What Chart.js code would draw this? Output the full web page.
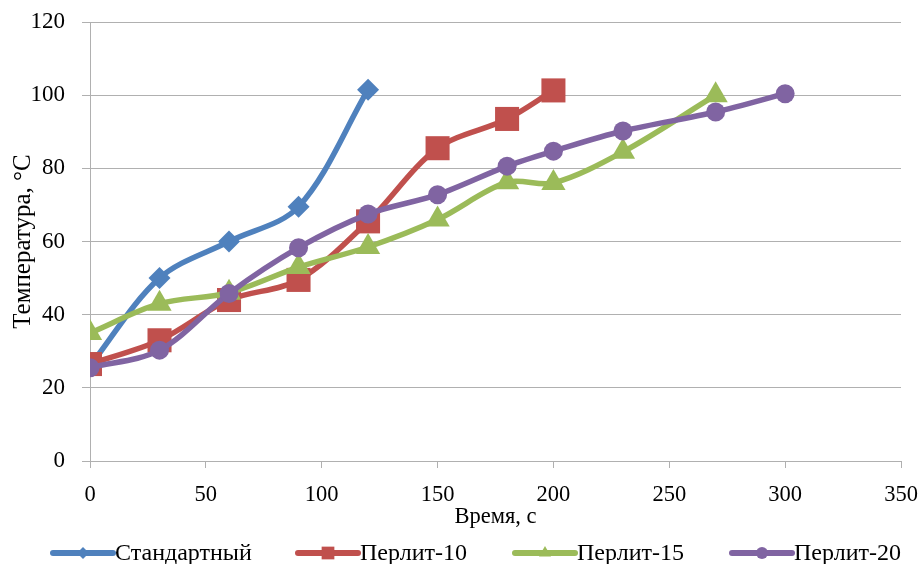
<!DOCTYPE html>
<html>
<head>
<meta charset="utf-8">
<script src="https://cdn.jsdelivr.net/npm/chart.js@4/dist/chart.umd.min.js"></script>
<style>
  html, body { margin: 0; padding: 0; background: #fff; }
  #wrap { width: 918px; height: 564px; }
</style>
</head>
<body>
<div id="wrap"><canvas id="c" width="918" height="564"></canvas></div>
<script>
// Heating curves: temperature (°C) over time (s)
const seriesNames = ['Стандартный', 'Перлит-10', 'Перлит-15', 'Перлит-20'];

const standardTime = [0, 30, 60, 90, 120];
const standardTemp = [26, 50, 60, 69.5, 101.5];

const perlit10Time = [0, 30, 60, 90, 120, 150, 180, 200];
const perlit10Temp = [26.5, 33, 44, 49.5, 65.5, 85.5, 93.5, 101.3];

const perlit15Time = [0, 30, 60, 90, 120, 150, 180, 200, 230, 270];
const perlit15Temp = [35, 43, 46, 53, 58.5, 66, 76.2, 76, 84.5, 100];

const perlit20Time = [0, 30, 60, 90, 120, 150, 180, 200, 230, 270, 300];
const perlit20Temp = [25.5, 30.3, 45.8, 58.3, 67.5, 72.8, 80.6, 84.7, 90.2, 95.4, 100.4];

const xTicks = [0, 50, 100, 150, 200, 250, 300, 350];
const yTicks = [0, 20, 40, 60, 80, 100, 120];

const xTitle = 'Время, с';
const yTitle = 'Температура, °С';

const colors = ['#4F81BD', '#C0504D', '#9BBB59', '#8064A2'];
const markers = ['rectRot', 'rect', 'triangle', 'circle'];
const markerRadius = [11, 17, 14, 9.5];
const legendMarkerRadius = [6, 9, 7, 6];

const serif = '"Liberation Serif", "Times New Roman", serif';

function toPoints(xs, ys) {
  return xs.map((x, i) => ({ x: x, y: ys[i] }));
}

const seriesData = [
  toPoints(standardTime, standardTemp),
  toPoints(perlit10Time, perlit10Temp),
  toPoints(perlit15Time, perlit15Temp),
  toPoints(perlit20Time, perlit20Temp)
];

const datasets = seriesData.map((pts, i) => ({
  label: seriesNames[i],
  data: pts,
  borderColor: colors[i],
  backgroundColor: colors[i],
  borderWidth: 5.5,
  tension: 0.33,
  pointStyle: markers[i],
  pointRadius: markerRadius[i],
  pointHoverRadius: markerRadius[i],
  pointBackgroundColor: colors[i],
  pointBorderColor: colors[i],
  pointBorderWidth: 0,
  order: seriesNames.length - i,
  fill: false
}));

// Legend below the axis: a thick line with a small marker, then the name
const legendX = [53, 298, 515, 732];
const legendY = 553;
const legendLineLen = 60;

const bottomLegend = {
  id: 'bottomLegend',
  afterDraw(chart) {
    const ctx = chart.ctx;
    ctx.save();
    ctx.font = '24px ' + serif;
    ctx.textBaseline = 'middle';
    ctx.textAlign = 'left';
    seriesNames.forEach((name, i) => {
      const x0 = legendX[i];
      ctx.strokeStyle = colors[i];
      ctx.lineWidth = 6;
      ctx.lineCap = 'round';
      ctx.beginPath();
      ctx.moveTo(x0, legendY);
      ctx.lineTo(x0 + legendLineLen, legendY);
      ctx.stroke();
      ctx.fillStyle = colors[i];
      ctx.strokeStyle = colors[i];
      Chart.helpers.drawPoint(ctx, {
        pointStyle: markers[i],
        radius: legendMarkerRadius[i],
        borderWidth: 0,
        rotation: 0
      }, x0 + legendLineLen / 2, legendY);
      ctx.fillStyle = '#000';
      ctx.fillText(name, x0 + legendLineLen + 2, legendY + 1);
    });
    ctx.restore();
  }
};

new Chart(document.getElementById('c'), {
  type: 'line',
  data: { datasets: datasets },
  plugins: [bottomLegend],
  options: {
    responsive: false,
    animation: false,
    devicePixelRatio: 1,
    layout: { padding: { top: 22, right: 16, left: 0, bottom: 0 } },
    plugins: {
      legend: { display: false },
      tooltip: { enabled: false }
    },
    scales: {
      x: {
        type: 'linear',
        min: 0,
        max: 350,
        afterFit(scale) {
          scale.height = 103;
          scale.paddingLeft = 0;
          scale.paddingRight = 0;
        },
        afterBuildTicks(scale) { scale.ticks = xTicks.map(v => ({ value: v })); },
        grid: {
          drawOnChartArea: false,
          drawTicks: true,
          tickLength: 7,
          color: '#b0b0b0',
          lineWidth: 1
        },
        border: { color: '#b0b0b0', width: 1 },
        ticks: {
          padding: 14,
          color: '#000',
          maxRotation: 0,
          font: { family: serif, size: 22.5 }
        },
        title: {
          display: true,
          text: xTitle,
          color: '#000',
          font: { family: serif, size: 22.5 },
          padding: { top: 0, bottom: 33 }
        }
      },
      y: {
        type: 'linear',
        min: 0,
        max: 120,
        afterFit(scale) {
          scale.width = 90;
          scale.paddingTop = 0;
          scale.paddingBottom = 0;
        },
        afterBuildTicks(scale) { scale.ticks = yTicks.map(v => ({ value: v })); },
        grid: {
          drawOnChartArea: true,
          drawTicks: true,
          tickLength: 8,
          color: '#b0b0b0',
          lineWidth: 1
        },
        border: { color: '#b0b0b0', width: 1 },
        ticks: {
          padding: 17,
          color: '#000',
          font: { family: serif, size: 23 }
        },
        title: {
          display: true,
          text: yTitle,
          color: '#000',
          font: { family: serif, size: 25 },
          padding: { top: 8, bottom: 0 }
        }
      }
    }
  }
});
</script>
</body>
</html>
